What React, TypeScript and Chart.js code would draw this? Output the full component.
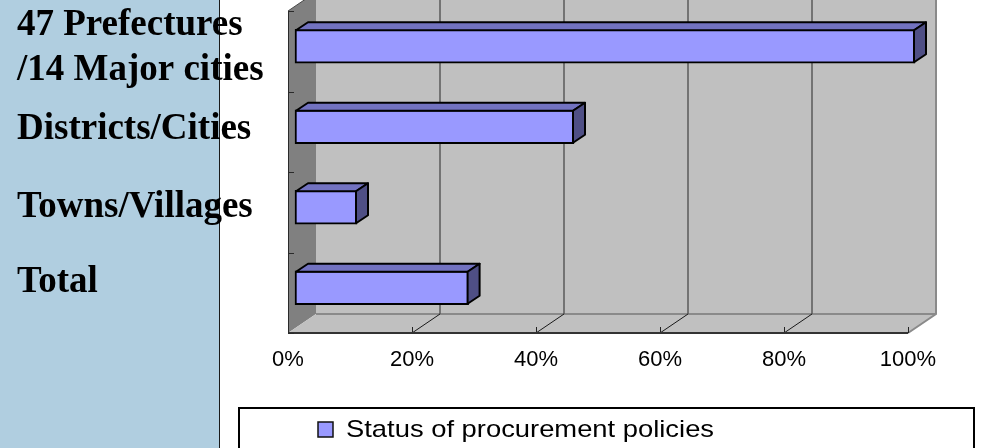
import React, { useEffect, useRef } from 'react';
import { Chart, registerables } from 'chart.js';

Chart.register(...registerables);

// ---- data ----
const CATEGORY_LINES: string[][] = [
  ['47 Prefectures', '/14 Major cities'],
  ['Districts/Cities'],
  ['Towns/Villages'],
  ['Total'],
];
const CATEGORIES: string[] = CATEGORY_LINES.map((l) => l.join(' '));
const SERIES_LABEL = 'Status of procurement policies';
const VALUES: number[] = [100, 45, 10, 28];
const X_TICKS: number[] = [0, 20, 40, 60, 80, 100];

// ---- layout / style constants ----
const PANEL_W = 219;
const LABEL_BASELINES: number[][] = [[35, 80], [139], [217], [292]];
const WALL_DX = 28;
const WALL_DY = -19;
const BAR_SHIFT_X = 7;
const BAR_SHIFT_Y = -5;
const BAR_DX = 12;
const BAR_DY = -8;

const threeD = {
  id: 'threeD',
  beforeDraw(chart: any) {
    const ctx = chart.ctx as CanvasRenderingContext2D;
    ctx.save();
    ctx.fillStyle = '#ffffff';
    ctx.fillRect(0, 0, chart.width, chart.height);
    ctx.fillStyle = '#b0cee0';
    ctx.fillRect(0, 0, PANEL_W, chart.height);
    ctx.strokeStyle = '#1a1a1a';
    ctx.lineWidth = 1;
    ctx.beginPath();
    ctx.moveTo(PANEL_W + 0.5, 0);
    ctx.lineTo(PANEL_W + 0.5, chart.height);
    ctx.stroke();
    ctx.restore();
  },
  beforeDatasetsDraw(chart: any) {
    const ctx = chart.ctx as CanvasRenderingContext2D;
    const { left: L, right: R, top: T, bottom: B } = chart.chartArea;
    const xs = chart.scales.x;
    const ys = chart.scales.y;
    ctx.save();
    // back wall
    ctx.fillStyle = '#c0c0c0';
    ctx.fillRect(L + WALL_DX, 0, R - L, B + WALL_DY);
    // side wall
    ctx.fillStyle = '#808080';
    ctx.beginPath();
    ctx.moveTo(L, T);
    ctx.lineTo(L + WALL_DX, T + WALL_DY);
    ctx.lineTo(L + WALL_DX, B + WALL_DY);
    ctx.lineTo(L, B);
    ctx.closePath();
    ctx.fill();
    ctx.strokeStyle = '#4a4a4a';
    ctx.lineWidth = 1;
    ctx.beginPath();
    ctx.moveTo(L, T);
    ctx.lineTo(L + WALL_DX, T + WALL_DY);
    ctx.stroke();
    // floor
    ctx.fillStyle = '#c0c0c0';
    ctx.beginPath();
    ctx.moveTo(L, B);
    ctx.lineTo(R, B);
    ctx.lineTo(R + WALL_DX, B + WALL_DY);
    ctx.lineTo(L + WALL_DX, B + WALL_DY);
    ctx.closePath();
    ctx.fill();
    // back wall bottom edge & right edge
    ctx.strokeStyle = '#8a8a8a';
    ctx.lineWidth = 2;
    ctx.beginPath();
    ctx.moveTo(L + WALL_DX, B + WALL_DY);
    ctx.lineTo(R + WALL_DX, B + WALL_DY);
    ctx.moveTo(R + WALL_DX, 0);
    ctx.lineTo(R + WALL_DX, B + WALL_DY);
    ctx.lineTo(R, B);
    ctx.stroke();
    // gridlines
    X_TICKS.forEach((v) => {
      const px = Math.round(xs.getPixelForValue(v));
      if (v !== X_TICKS[0] && v !== X_TICKS[X_TICKS.length - 1]) {
        ctx.strokeStyle = '#5a5a5a';
        ctx.lineWidth = 1.5;
        ctx.beginPath();
        ctx.moveTo(px + WALL_DX, 0);
        ctx.lineTo(px + WALL_DX, B + WALL_DY);
        ctx.stroke();
        ctx.strokeStyle = '#1a1a1a';
        ctx.lineWidth = 1;
        ctx.beginPath();
        ctx.moveTo(px, B);
        ctx.lineTo(px + WALL_DX, B + WALL_DY);
        ctx.stroke();
      }
      ctx.strokeStyle = '#222';
      ctx.lineWidth = 1;
      ctx.beginPath();
      ctx.moveTo(px + 0.5, B);
      ctx.lineTo(px + 0.5, B - 6);
      ctx.stroke();
    });
    // front axis line
    ctx.strokeStyle = '#333';
    ctx.lineWidth = 2;
    ctx.beginPath();
    ctx.moveTo(L, B);
    ctx.lineTo(R, B);
    ctx.stroke();
    // y axis line and ticks at category boundaries
    ctx.lineWidth = 1;
    ctx.strokeStyle = '#2a2a2a';
    ctx.beginPath();
    ctx.moveTo(L + 0.5, T);
    ctx.lineTo(L + 0.5, B);
    const n = CATEGORIES.length;
    for (let i = 0; i <= n; i++) {
      let yb: number;
      if (i === 0) yb = T;
      else if (i === n) yb = B;
      else yb = (ys.getPixelForValue(i - 1) + ys.getPixelForValue(i)) / 2;
      yb = Math.round(yb) + 0.5;
      ctx.moveTo(L, yb);
      ctx.lineTo(L + 6, yb);
    }
    ctx.stroke();
    ctx.restore();

    ctx.save();
    ctx.translate(BAR_SHIFT_X, BAR_SHIFT_Y);
  },
  afterDatasetsDraw(chart: any) {
    const ctx = chart.ctx as CanvasRenderingContext2D;
    const meta = chart.getDatasetMeta(0);
    meta.data.forEach((el: any) => {
      const p = el.getProps(['x', 'y', 'base', 'height'], true);
      const l = Math.min(p.x, p.base);
      const r = Math.max(p.x, p.base);
      const t = p.y - p.height / 2 + 1;
      const b = p.y + p.height / 2 - 1;
      ctx.lineWidth = 2;
      ctx.strokeStyle = '#000';
      ctx.lineJoin = 'round';
      // top face
      ctx.fillStyle = '#7272c0';
      ctx.beginPath();
      ctx.moveTo(l + 1, t);
      ctx.lineTo(l + 1 + BAR_DX, t + BAR_DY);
      ctx.lineTo(r - 1 + BAR_DX, t + BAR_DY);
      ctx.lineTo(r - 1, t);
      ctx.closePath();
      ctx.fill();
      ctx.stroke();
      // side face
      ctx.fillStyle = '#4f4f85';
      ctx.beginPath();
      ctx.moveTo(r - 1, t);
      ctx.lineTo(r - 1 + BAR_DX, t + BAR_DY);
      ctx.lineTo(r - 1 + BAR_DX, b + BAR_DY);
      ctx.lineTo(r - 1, b);
      ctx.closePath();
      ctx.fill();
      ctx.stroke();
    });
    ctx.restore();
  },
  afterDraw(chart: any) {
    const ctx = chart.ctx as CanvasRenderingContext2D;
    ctx.save();
    // left category labels
    ctx.fillStyle = '#000';
    ctx.font = 'bold 37px "Liberation Serif", "Times New Roman", serif';
    ctx.textBaseline = 'alphabetic';
    ctx.textAlign = 'left';
    CATEGORY_LINES.forEach((lines, i) => {
      lines.forEach((line, j) => {
        ctx.fillText(line, 17, LABEL_BASELINES[i][j]);
      });
    });
    // legend box
    ctx.strokeStyle = '#000';
    ctx.lineWidth = 2;
    ctx.strokeRect(239, 408, 735, 100);
    const ds = chart.data.datasets[0];
    ctx.fillStyle = ds.backgroundColor as string;
    ctx.fillRect(318, 422, 15, 15);
    ctx.lineWidth = 1.5;
    ctx.strokeStyle = '#111';
    ctx.strokeRect(318, 422, 15, 15);
    ctx.fillStyle = '#000';
    ctx.font = '24px "Liberation Sans", Arial, sans-serif';
    ctx.translate(346, 437);
    ctx.scale(1.14, 1);
    ctx.fillText(ds.label, 0, 0);
    ctx.restore();
  },
};

export default function App() {
  const ref = useRef<HTMLCanvasElement>(null);
  useEffect(() => {
    const chart = new Chart(ref.current as HTMLCanvasElement, {
      type: 'bar',
      data: {
        labels: CATEGORIES,
        datasets: [
          {
            label: SERIES_LABEL,
            data: VALUES,
            backgroundColor: '#9999ff',
            borderColor: '#000000',
            borderWidth: 2,
            borderSkipped: false,
            barThickness: 34,
            clip: false as any,
          },
        ],
      },
      options: {
        indexAxis: 'y',
        responsive: false,
        animation: false,
        events: [],
        layout: { padding: { left: 288, right: 89, top: 11, bottom: 75 } },
        plugins: {
          legend: { display: false },
          tooltip: { enabled: false },
        },
        scales: {
          x: {
            type: 'linear',
            position: 'bottom',
            min: 0,
            max: 100,
            afterBuildTicks: (s: any) => {
              s.ticks = X_TICKS.map((v) => ({ value: v }));
            },
            afterFit: (s: any) => {
              s.height = 40;
            },
            ticks: {
              callback: (v: any) => v + '%',
              color: '#000',
              padding: 14,
              maxRotation: 0,
              autoSkip: false,
              font: { family: '"Liberation Sans Narrow", "Arial Narrow", "Liberation Sans", sans-serif', size: 22 },
            },
            grid: { display: false, drawTicks: false },
            border: { display: false },
          },
          y: {
            type: 'category',
            display: false,
          },
        },
      },
      plugins: [threeD],
    });
    return () => chart.destroy();
  }, []);
  return (
    <div style={{ position: 'absolute', left: 0, top: 0, width: 997, height: 448, background: '#fff' }}>
      <canvas ref={ref} width={997} height={448} style={{ display: 'block' }} />
    </div>
  );
}
